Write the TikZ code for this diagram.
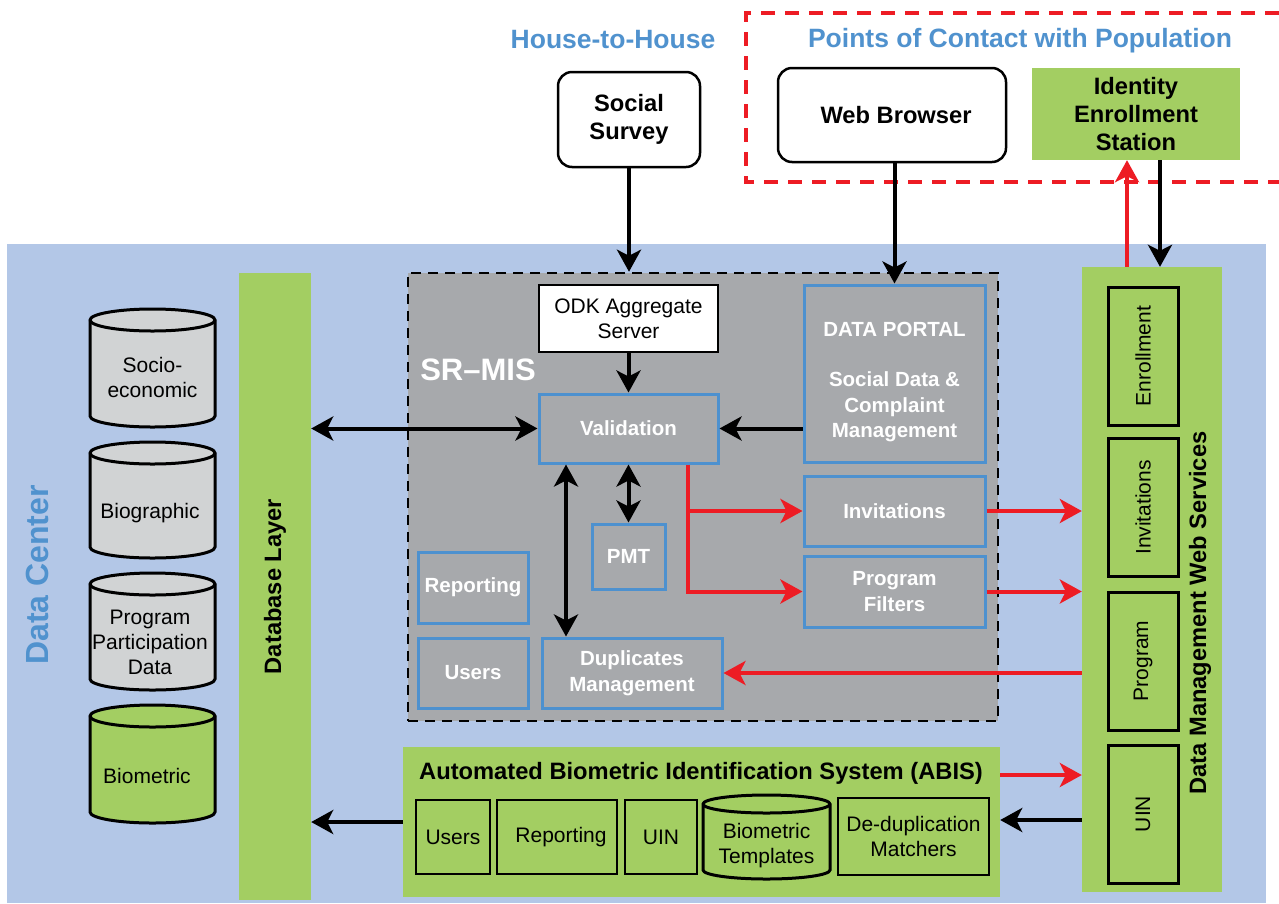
\documentclass[tikz,border=0pt]{standalone}
\usepackage{fontspec}
\setmainfont{Liberation Sans}
\usetikzlibrary{arrows.meta}

\definecolor{dcblue}{RGB}{179,199,231}
\definecolor{dgreen}{RGB}{163,206,98}
\definecolor{mgray}{RGB}{167,169,172}
\definecolor{cgray}{RGB}{209,211,212}
\definecolor{tblue}{RGB}{80,146,206}
\definecolor{bblue}{RGB}{77,145,207}
\definecolor{ared}{RGB}{237,28,36}

\def\fhuge{\fontsize{32}{36}\selectfont}
\def\fsr{\fontsize{31}{35}\selectfont}
\def\fhdr{\fontsize{26.5}{30}\selectfont}
\def\fbig{\fontsize{23.7}{28}\selectfont}
\def\fmid{\fontsize{20.5}{25.5}\selectfont}
\def\freg{\fontsize{21}{25}\selectfont}

\tikzset{
  hdr/.style={text=tblue, font=\fhdr\bfseries, inner sep=0pt},
  sz/.style 2 args={minimum width=#1pt, minimum height=#2pt},
  gbar/.style={fill=dgreen, inner sep=0pt, align=center, font=\fbig\bfseries},
  rbox/.style={draw, fill=white, line width=2.5pt, rounded corners=14pt, align=center, inner sep=0pt, font=\fbig\bfseries},
  srbox/.style={fill=mgray, draw=black, line width=2.5pt, dash pattern=on 10pt off 7pt},
  srin/.style={draw=bblue, line width=3pt, fill=mgray, text=white, align=center, inner sep=0pt, font=\fmid\bfseries},
  wbox/.style={draw, fill=white, line width=2.5pt, align=center, inner sep=0pt, font=\freg},
  abox/.style={draw, line width=2.5pt, align=center, inner sep=0pt, font=\freg},
  wsbox/.style={draw, line width=3pt, rotate=90, minimum width=138pt, minimum height=70pt, inner sep=0pt, font=\freg},
  dbtxt/.style={align=center, inner sep=0pt, font=\freg},
  disk/.style={line width=3pt, draw=black},
  reddash/.style={draw=ared, line width=4.5pt, dash pattern=on 14pt off 10pt},
  blarrow/.style={line width=4pt, draw=black},
  rarrow/.style={line width=4pt, draw=ared},
}

% storage drum: centre x, top y, bottom y, half width, cap radius, fill
\def\DBdisk#1#2#3#4#5#6{
  \filldraw[disk, fill=#6] ({#1-#4},{-#2-#5}) -- ({#1-#4},{-#3+#5})
    arc[start angle=180, end angle=360, x radius=#4pt, y radius=#5pt]
    -- ({#1+#4},{-#2-#5})
    arc[start angle=0, end angle=180, x radius=#4pt, y radius=#5pt] -- cycle;
  \draw[disk] ({#1-#4},{-#2-#5}) arc[start angle=180, end angle=360, x radius=#4pt, y radius=#5pt];
}

\begin{document}
\begin{tikzpicture}[x=1pt, y=1pt, >={Stealth[length=22pt,width=24pt,inset=6pt]}]
  \useasboundingbox (0,0) rectangle (1279,-903);

  % data center
  \fill[dcblue] (7,-244) rectangle (1266,-903);
  \node[rotate=90, text=tblue, font=\fhuge\bfseries, inner sep=0pt] (dctitle) at (37,-575) {Data Center};

  \DBdisk{152.5}{309}{427}{62.5}{11}{cgray}
  \DBdisk{152.5}{442}{558}{62.5}{11}{cgray}
  \DBdisk{152.5}{573}{690}{62.5}{11}{cgray}
  \DBdisk{152.5}{705}{823}{62.5}{11}{dgreen}
  \node[dbtxt] (socio) at (152.5,-377) {Socio-\\economic};
  \node[dbtxt] (biogr) at (150,-513) {Biographic};
  \node[dbtxt] (ppdata) at (150,-642) {Program\\Participation\\Data};
  \node[dbtxt] (biom) at (147,-776) {Biometric};

  \node[gbar, rotate=90, sz={627}{72}] (dblayer) at (275,-586.5) {Database Layer};

  % web services
  \node[gbar, sz={140}{625}] (dmws) at (1152,-579.5) {};
  \node[rotate=90, font=\fbig\bfseries, inner sep=0pt] (dmwstitle) at (1200,-613) {Data Management Web Services};
  \foreach \nm/\lbl/\cy in {wsenr/Enrollment/356, wsinv/Invitations/507.5, wsprog/Program/661, wsuin/UIN/814}
    \node[wsbox] (\nm) at (1143,-\cy) {\lbl};

  % points of contact
  \node[hdr] (hth) at (613,-40) {House-to-House};
  \node[hdr] (pcp) at (1020,-41) {Points of Contact with Population};
  \draw[reddash] (1279,-13) -- (746,-13) -- (746,-182) -- (1279,-182);
  \node[rbox, sz={142}{95}] (survey) at (629,-119.5) {Social\\Survey};
  \node[rbox, sz={228}{94}] (browser) at (892,-115) {\hspace*{8pt}Web Browser};
  \node[gbar, sz={208}{92}] (ides) at (1136,-114) {Identity\\Enrollment\\Station};

  % SR-MIS
  \node[srbox, sz={590}{448}] (srmis) at (703,-497) {};
  \node[text=white, font=\fsr\bfseries, inner sep=0pt] (srlbl) at (478,-370) {SR–MIS};
  \node[wbox, sz={179}{67}] (odk) at (628.5,-318.5) {ODK Aggregate\\Server};
  \node[srin, sz={179}{69}] (valid) at (628.5,-428.5) {Validation};
  \node[srin, sz={181}{177}] (portal) at (894.5,-373.5) {\rule{0pt}{31pt}DATA PORTAL\\[25pt]Social Data \&\\Complaint\\Management};
  \node[srin, sz={181}{70}] (invit) at (894.5,-511) {Invitations};
  \node[srin, sz={181}{71}] (pfilt) at (894.5,-591.5) {Program\\Filters};
  \node[srin, sz={73}{65}] (pmt) at (628.5,-556.5) {PMT};
  \node[srin, sz={110}{71}] (report) at (473,-587.5) {Reporting};
  \node[srin, sz={110}{70}] (users) at (473,-673) {Users};
  \node[srin, sz={180}{70}] (dupl) at (632,-673) {Duplicates\\Management};

  % ABIS
  \node[gbar, sz={597}{150}] (abis) at (701.5,-822) {};
  \node[font=\fbig\bfseries, inner sep=0pt] (abistitle) at (701,-773) {Automated Biometric Identification System (ABIS)};
  \node[abox, sz={74}{74}] (ausers) at (453,-837) {Users};
  \node[abox, sz={120}{74}] (arep) at (557,-837) {\hspace*{8pt}Reporting};
  \node[abox, sz={72}{74}] (auin) at (661,-837) {UIN};
  \DBdisk{766.5}{795}{879}{63.5}{9}{dgreen}
  \node[dbtxt] (templ) at (766.5,-846) {Biometric\\Templates};
  \node[abox, sz={151}{77}] (dedup) at (913.5,-836.5) {De-duplication\\Matchers};

  % connectors
  \coordinate (iesup) at ([xshift=-9pt]ides.south);
  \coordinate (iesdn) at ([xshift=24pt]ides.south);
  \coordinate (vdup) at ([xshift=-62.5pt]valid.south);
  \coordinate (vsplit) at ([xshift=59.5pt]valid.south);
  \coordinate (abisout) at ([yshift=47pt]abis.east);
  \coordinate (abisin) at ([yshift=2pt]abis.east);

  \draw[blarrow, ->] (survey.south) -- (survey.south |- srmis.north);
  \draw[blarrow, ->] (portal.north |- browser.south) -- (portal.north);
  \draw[rarrow, ->] (iesup |- dmws.north) -- (iesup);
  \draw[blarrow, ->] (iesdn) -- (iesdn |- dmws.north);
  \draw[blarrow, <->] (dblayer.south |- valid.west) -- (valid.west);
  \draw[blarrow, ->] (odk) -- (valid);
  \draw[blarrow, ->] (portal.west |- valid.east) -- (valid.east);
  \draw[blarrow, <->] (valid) -- (pmt);
  \draw[blarrow, <->] (vdup) -- (vdup |- dupl.north);
  \draw[rarrow, ->] (vsplit) |- (pfilt.west);
  \draw[rarrow, ->] (vsplit |- invit.west) -- (invit.west);
  \draw[rarrow, ->] (invit.east) -- (invit.east -| dmws.west);
  \draw[rarrow, ->] (pfilt.east) -- (pfilt.east -| dmws.west);
  \draw[rarrow, ->] (dmws.west |- dupl.east) -- (dupl.east);
  \draw[rarrow, ->] (abisout) -- (abisout -| dmws.west);
  \draw[blarrow, ->] (abisin -| dmws.west) -- (abisin);
  \draw[blarrow, ->] (abis.west) -- (abis.west -| dblayer.south);

  % \draw[blarrow, ->] (dmws.north) -- (ides.south);
\end{tikzpicture}
\end{document}
